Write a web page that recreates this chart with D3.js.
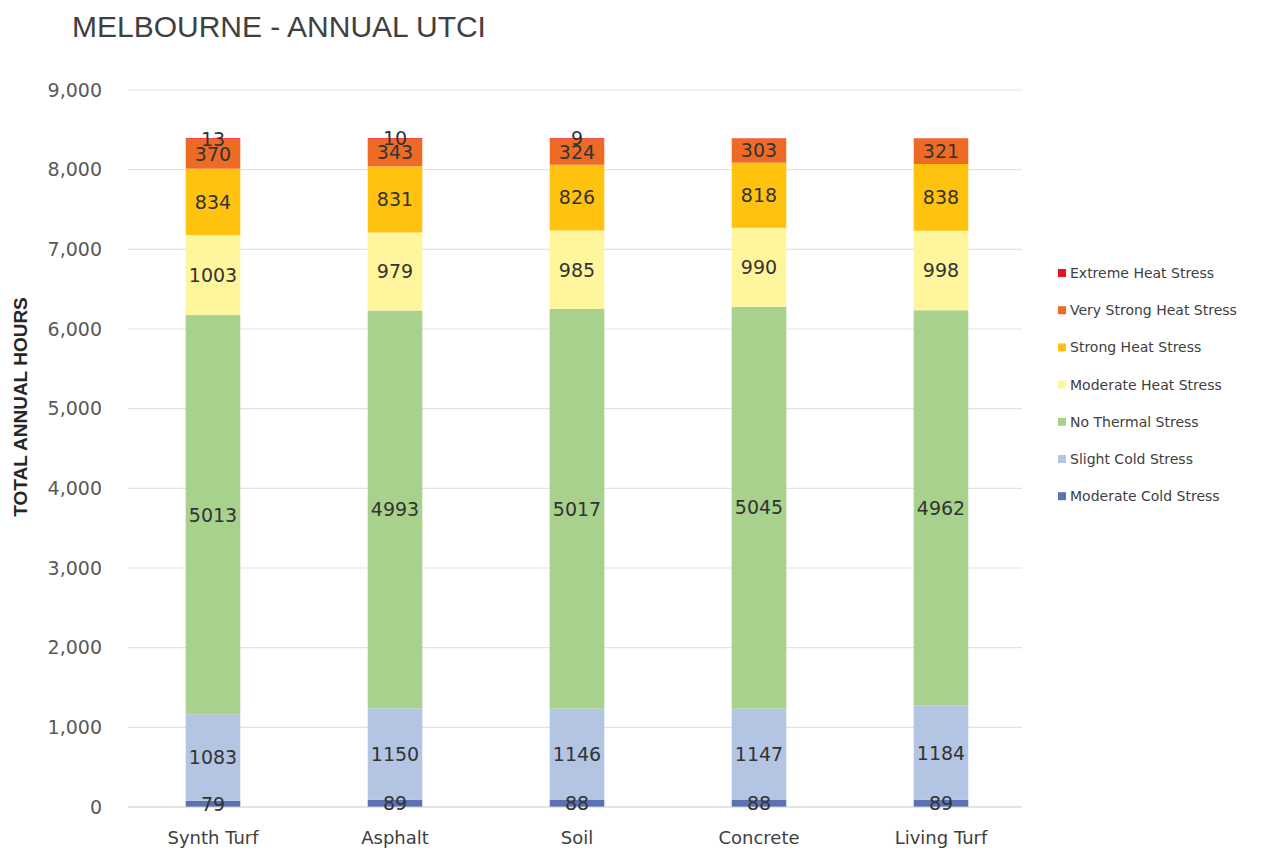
<!DOCTYPE html>
<html>
<head>
<meta charset="utf-8">
<script src="https://cdn.jsdelivr.net/npm/d3@7"></script>
<style>
  html, body { margin: 0; padding: 0; background: #fff; }
  svg { display: block; font-family: "DejaVu Sans", "Liberation Sans", Arial, sans-serif; }
</style>
</head>
<body>
<svg id="chart" width="1261" height="853"></svg>
<script>
// Surfaces compared
const categories = ["Synth Turf", "Asphalt", "Soil", "Concrete", "Living Turf"];

// Stress classes, bottom of the stack first
const seriesNames = [
  "Moderate Cold Stress",
  "Slight Cold Stress",
  "No Thermal Stress",
  "Moderate Heat Stress",
  "Strong Heat Stress",
  "Very Strong Heat Stress",
  "Extreme Heat Stress"
];

// Hours per class, one entry per surface
const moderateCold   = [79, 89, 88, 88, 89];
const slightCold     = [1083, 1150, 1146, 1147, 1184];
const noThermal      = [5013, 4993, 5017, 5045, 4962];
const moderateHeat   = [1003, 979, 985, 990, 998];
const strongHeat     = [834, 831, 826, 818, 838];
const veryStrongHeat = [370, 343, 324, 303, 321];
const extremeHeat    = [13, 10, 9, 4, 3];

const yTicks = [0, 1000, 2000, 3000, 4000, 5000, 6000, 7000, 8000, 9000];

const seriesValues = [moderateCold, slightCold, noThermal, moderateHeat, strongHeat, veryStrongHeat, extremeHeat];
const colors = ["#5a71b4", "#b4c5e4", "#a8d18d", "#fff59d", "#ffc30f", "#ee6b25", "#ee1022"];

const rows = categories.map((c, i) => {
  const r = { category: c };
  seriesNames.forEach((s, j) => { r[s] = seriesValues[j][i]; });
  return r;
});

const svg = d3.select("#chart");

const x = d3.scaleBand().domain(categories).range([122, 1032]).paddingInner(0.7).paddingOuter(0.35);
const y = d3.scaleLinear().domain([0, 9000]).range([807, 90]);

// Title
svg.append("text").attr("x", 72).attr("y", 37)
  .attr("font-family", "'Liberation Sans', Arial, sans-serif")
  .attr("font-size", 30).attr("fill", "#404040")
  .text("MELBOURNE - ANNUAL UTCI");

// Gridlines
svg.append("g").selectAll("line").data(yTicks.filter(d => d > 0)).join("line")
  .attr("x1", 128).attr("x2", 1022)
  .attr("y1", d => y(d)).attr("y2", d => y(d))
  .attr("stroke", "#e3e3e3").attr("stroke-width", 1.2);

// Y axis labels
const yAxis = d3.axisLeft(y).tickValues(yTicks).tickSize(0).tickPadding(0).tickFormat(d3.format(","));
const yg = svg.append("g").attr("transform", "translate(102,0)").call(yAxis);
yg.select(".domain").remove();
yg.selectAll("text").attr("font-size", 19).attr("fill", "#595959")
  .attr("font-family", "'DejaVu Sans', sans-serif");

// Y axis title
svg.append("text")
  .attr("transform", "translate(27,407) rotate(-90)")
  .attr("text-anchor", "middle")
  .attr("font-family", "'Liberation Sans', Arial, sans-serif")
  .attr("font-size", 19).attr("font-weight", "bold").attr("fill", "#262626")
  .text("TOTAL ANNUAL HOURS");

// Stacked bars
const stacked = d3.stack().keys(seriesNames)(rows);
const layers = svg.append("g").selectAll("g").data(stacked).join("g")
  .attr("fill", (d, i) => colors[i]);
layers.selectAll("rect").data(d => d).join("rect")
  .attr("x", d => x(d.data.category))
  .attr("width", x.bandwidth())
  .attr("y", d => y(d[1]))
  .attr("height", d => y(d[0]) - y(d[1]));

// Baseline
svg.append("line").attr("x1", 128).attr("x2", 1022)
  .attr("y1", y(0)).attr("y2", y(0))
  .attr("stroke", "#c8c8c8").attr("stroke-width", 1.2);

// Data labels at segment centres
const labelG = svg.append("g");
stacked.forEach((layer) => {
  labelG.selectAll(null).data(layer.filter(d => (d[1] - d[0]) >= 5)).join("text")
    .attr("x", d => x(d.data.category) + x.bandwidth() / 2)
    .attr("y", d => y((d[0] + d[1]) / 2))
    .attr("dy", "0.36em")
    .attr("text-anchor", "middle")
    .attr("font-size", 19).attr("fill", "#333")
    .text(d => d[1] - d[0]);
});

// Category labels
const xAxis = d3.axisBottom(x).tickSize(0).tickPadding(0);
const xg = svg.append("g").attr("transform", "translate(0,838)").call(xAxis);
xg.select(".domain").remove();
xg.selectAll("text").attr("font-size", 18).attr("fill", "#404040").attr("dy", "0.35em")
  .attr("font-family", "'DejaVu Sans', sans-serif");

// Legend, top entry is the hottest class
const legendItems = seriesNames.map((s, i) => ({ name: s, color: colors[i] })).reverse();
const lg = svg.append("g").selectAll("g").data(legendItems).join("g")
  .attr("transform", (d, i) => `translate(1058,${273 + i * 37.2})`);
lg.append("rect").attr("x", 0).attr("y", -4).attr("width", 8).attr("height", 8).attr("fill", d => d.color);
lg.append("text").attr("x", 12).attr("dy", "0.35em")
  .attr("font-size", 14).attr("fill", "#404040").text(d => d.name);
</script>
</body>
</html>
